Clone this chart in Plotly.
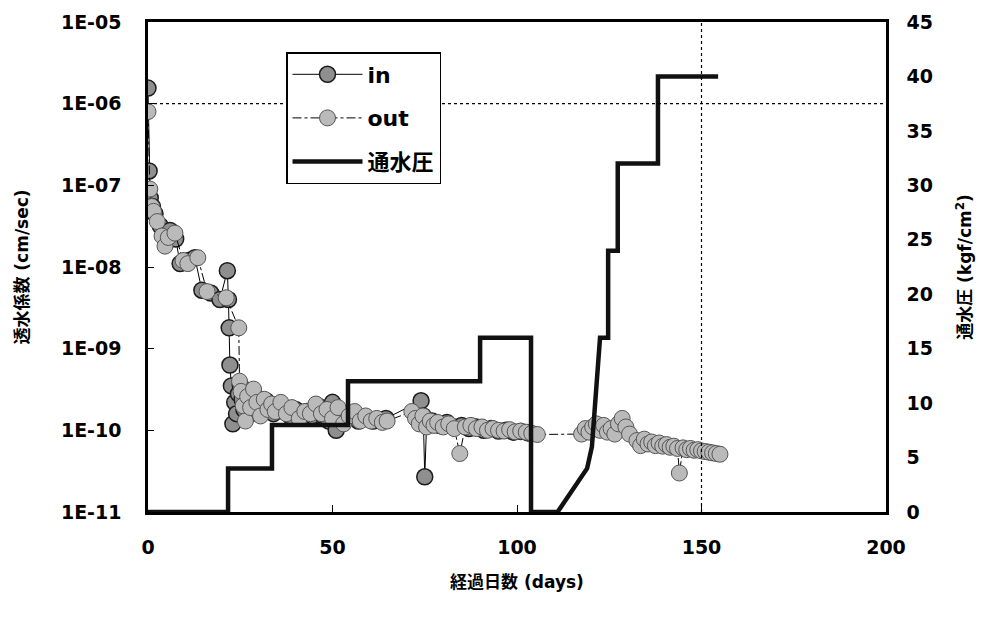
import plotly.graph_objects as go

# ---------------- data ----------------
in_days = [0, 0.3, 0.6, 1.2, 1.9, 3.3, 4.5, 6.0, 7.5, 8.7, 11.0, 12.7, 14.6, 17.0, 19.5, 21.5,
           21.8, 22.0, 22.2, 22.6, 23.0, 23.5, 24.0, 24.5, 25.0, 25.5, 26.0, 26.5, 27.0, 28.0,
           29.0, 30.0, 31.0, 32.0, 33.0, 34.0, 35.5, 37.0, 38.5, 40.0, 41.5, 43.0, 44.5, 46.0,
           47.5, 49.0, 50.0, 51.0, 52.0, 53.0, 55.0, 57.0, 59.0, 61.0, 63.0, 64.5, 74.0, 74.6,
           75.0, 75.5, 77.0, 79.0, 81.0, 83.0, 85.0, 87.0, 89.0, 91.0, 93.0, 95.0, 97.0, 99.0,
           101.0, 103.0]
in_k = [1.55e-6, 1.5e-7, 7e-8, 5.5e-8, 4.5e-8, 3.2e-8, 2.6e-8, 2.8e-8, 2.2e-8, 1.1e-8, 1.2e-8,
        1.3e-8, 5.2e-9, 4.8e-9, 4.0e-9, 9e-9, 4.0e-9, 1.8e-9, 6.3e-10, 3.5e-10, 1.2e-10,
        2.2e-10, 1.6e-10, 2.8e-10, 3.6e-10, 2.4e-10, 1.8e-10, 3.0e-10, 2.2e-10, 1.6e-10,
        2.6e-10, 2.0e-10, 1.7e-10, 2.3e-10, 1.9e-10, 1.6e-10, 2.0e-10, 1.7e-10, 1.5e-10,
        1.8e-10, 1.6e-10, 1.7e-10, 1.5e-10, 2.0e-10, 1.5e-10, 1.3e-10, 2.2e-10, 1.0e-10,
        1.5e-10, 1.3e-10, 1.5e-10, 1.3e-10, 1.4e-10, 1.3e-10, 1.35e-10, 1.4e-10, 2.3e-10,
        1.5e-10, 2.7e-11, 1.2e-10, 1.3e-10, 1.15e-10, 1.25e-10, 1.1e-10, 1.15e-10, 1.05e-10,
        1.1e-10, 1.0e-10, 1.05e-10, 9.8e-11, 1.0e-10, 9.5e-11, 9.7e-11, 9.3e-11]

out_days = [0, 0.5, 1.0, 1.5, 2.5, 3.8, 4.6, 5.5, 7.3, 9.5, 10.8, 13.5, 16.0, 21.2, 24.6, 24.8,
            25.2, 25.8, 26.4, 27.0, 27.8, 28.6, 29.5, 30.5, 31.5, 32.5, 33.5, 34.5, 36.0, 37.5,
            39.0, 41.0, 42.5, 44.0, 45.5, 47.0, 48.5, 50.0, 51.5, 53.0, 54.5, 56.0, 57.5, 59.0,
            60.5, 62.0, 63.5, 64.8, 71.5, 72.5, 73.5, 74.5, 75.5, 76.5, 77.5, 78.5, 80.0, 81.5,
            83.0, 84.5, 86.0, 87.5, 89.0, 90.5, 92.0, 93.5, 95.0, 96.5, 98.0, 99.5, 101.0,
            102.5, 104.0, 105.5, 117.5, 118.5, 119.5, 120.5, 121.5, 122.5, 123.5, 124.5, 125.5,
            126.5, 127.5, 128.5, 129.5, 130.5, 132.5, 133.5, 134.5, 135.5, 136.5, 137.5, 138.5,
            139.5, 140.5, 141.5, 142.5, 143.5, 144.0, 145.0, 146.0, 147.0, 148.0, 149.0, 150.0,
            151.0, 152.0, 153.0, 154.0, 155.0]
out_k = [8e-7, 9e-8, 5.5e-8, 4.8e-8, 3.6e-8, 2.4e-8, 1.8e-8, 2.3e-8, 2.6e-8, 1.2e-8, 1.1e-8,
         1.3e-8, 5.0e-9, 4.2e-9, 1.8e-9, 4.0e-10, 3.0e-10, 2.0e-10, 1.3e-10, 2.6e-10, 1.9e-10,
         3.2e-10, 2.2e-10, 1.5e-10, 2.4e-10, 1.8e-10, 2.1e-10, 1.7e-10, 2.2e-10, 1.6e-10,
         1.9e-10, 1.4e-10, 1.7e-10, 1.6e-10, 2.1e-10, 1.6e-10, 1.8e-10, 1.4e-10, 1.9e-10,
         1.2e-10, 1.5e-10, 1.7e-10, 1.3e-10, 1.5e-10, 1.3e-10, 1.4e-10, 1.25e-10, 1.3e-10,
         1.7e-10, 1.4e-10, 1.2e-10, 1.5e-10, 1.1e-10, 1.3e-10, 1.15e-10, 1.25e-10, 1.1e-10,
         1.2e-10, 1.05e-10, 5.2e-11, 1.1e-10, 1.15e-10, 1.05e-10, 1.1e-10, 1.0e-10, 1.05e-10,
         1.0e-10, 9.8e-11, 1.02e-10, 9.6e-11, 9.8e-11, 9.5e-11, 9.2e-11, 8.9e-11, 9.0e-11,
         1.05e-10, 9.5e-11, 1.1e-10, 1.2e-10, 1.0e-10, 1.15e-10, 9.5e-11, 1.05e-10, 9.0e-11,
         1.2e-10, 1.4e-10, 1.1e-10, 9.0e-11, 7.5e-11, 6.5e-11, 7.8e-11, 6.8e-11, 7.2e-11,
         6.5e-11, 7.0e-11, 6.4e-11, 6.7e-11, 6.2e-11, 6.4e-11, 6.0e-11, 3.0e-11, 6.1e-11,
         5.8e-11, 6.0e-11, 5.7e-11, 5.8e-11, 5.6e-11, 5.5e-11, 5.4e-11, 5.3e-11, 5.2e-11,
         5.1e-11]

p_days = [0, 21.7, 21.7, 33.6, 33.6, 54.2, 54.2, 90.0, 90.0, 103.8, 103.8, 111.0, 119.0,
          120.3, 122.5, 124.7, 124.7, 127.3, 127.3, 138.2, 138.2, 154.5]
p_val = [0, 0, 4, 4, 8, 8, 12, 12, 16, 16, 0, 0, 4, 6, 16, 16, 24, 24, 32, 32, 40, 40]

k_tickvals = [1e-11, 1e-10, 1e-9, 1e-8, 1e-7, 1e-6, 1e-5]
k_ticktext = ["1E-11", "1E-10", "1E-09", "1E-08", "1E-07", "1E-06", "1E-05"]

# ---------------- figure ----------------
FONT = "DejaVu Sans, Noto Sans CJK JP, sans-serif"

fig = go.Figure()
fig.add_trace(go.Scatter(
    x=in_days, y=in_k, name="in", legendgroup="g1", mode="lines+markers",
    line=dict(color="black", width=1),
    marker=dict(size=16, color="#8f8f8f", line=dict(color="#1a1a1a", width=1.5))))
fig.add_trace(go.Scatter(
    x=out_days, y=out_k, name="out", legendgroup="g2", mode="lines+markers",
    line=dict(color="black", width=1, dash="dashdot"),
    marker=dict(size=16, color="#bababa", line=dict(color="#555555", width=1))))
fig.add_trace(go.Scatter(
    x=p_days, y=p_val, name="通水圧", legendgroup="g3", mode="lines", yaxis="y2",
    line=dict(color="#111111", width=4.5)))

fig.add_shape(type="line", xref="x", yref="paper", x0=0, x1=200, y0=5/6, y1=5/6,
              line=dict(color="black", width=1.2, dash="dot"))
fig.add_shape(type="line", xref="x", yref="paper", x0=150, x1=150, y0=0, y1=1,
              line=dict(color="black", width=1.2, dash="dot"))

fig.update_layout(
    width=986, height=620,
    margin=dict(l=148, r=100, t=22, b=108),
    paper_bgcolor="white", plot_bgcolor="white",
    font=dict(family=FONT, size=18, color="black"),
    showlegend=True,
    legend=dict(x=(286 - 148) / 738, y=(512 - 52) / 490, xanchor="left", yanchor="top",
                bgcolor="white", bordercolor="black", borderwidth=1.5,
                font=dict(family=FONT, size=22, weight="bold"),
                tracegroupgap=12, itemwidth=70),
    xaxis=dict(range=[0, 200], tickvals=[0, 50, 100, 150, 200], showgrid=False,
               zeroline=False, showline=True, linecolor="black", linewidth=2.5, mirror=True,
               ticks="inside", ticklen=7, tickcolor="black",
               tickfont=dict(size=19, weight="bold"), ticklabelstandoff=16,
               title=dict(text="経過日数 (days)", font=dict(size=17, weight="bold"), standoff=20)),
    yaxis=dict(type="log", range=[-11, -5], tickvals=k_tickvals, ticktext=k_ticktext,
               showgrid=False, zeroline=False, showline=True, linecolor="black", linewidth=2.5,
               ticks="inside", ticklen=6, tickcolor="black",
               tickfont=dict(size=19, weight="bold"), ticklabelstandoff=20,
               title=dict(text="透水係数 (cm/sec)", font=dict(size=17, weight="bold"), standoff=28)),
    yaxis2=dict(range=[0, 45], dtick=5, overlaying="y", side="right", showgrid=False,
                zeroline=False, showline=True, linecolor="black", linewidth=2.5,
                ticks="", tickfont=dict(size=19, weight="bold"), ticklabelstandoff=14,
                title=dict(text="通水圧 (kgf/cm<sup>2</sup>)", font=dict(size=17, weight="bold"),
                           standoff=28)),
)

fig.write_html("out.html", config={"displayModeBar": False},
               post_script="document.body.style.margin='0';")
